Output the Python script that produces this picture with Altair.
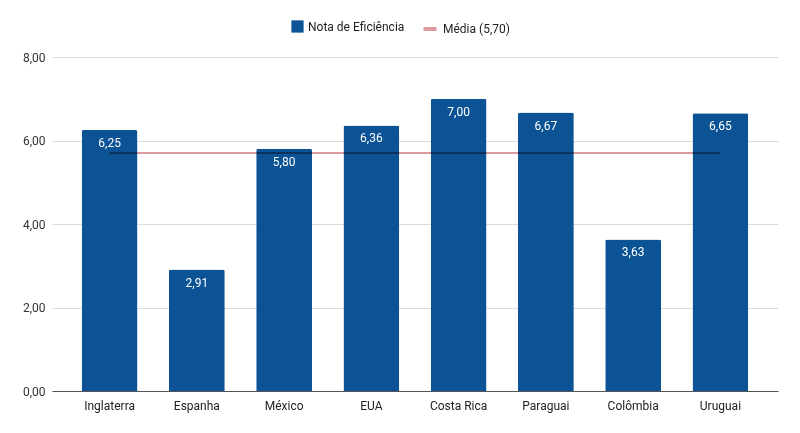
import altair as alt
import pandas as pd

paises = ["Inglaterra", "Espanha", "México", "EUA", "Costa Rica", "Paraguai", "Colômbia", "Uruguai"]
notas = [6.25, 2.91, 5.80, 6.36, 7.00, 6.67, 3.63, 6.65]
media = 5.70
y_ticks = [0, 2, 4, 6, 8]
serie_barra = "Nota de Eficiência"
serie_linha = "Média (5,70)"

df = pd.DataFrame({
    "pais": paises,
    "nota": notas,
    "rotulo": [f"{v:.2f}".replace(".", ",") for v in notas],
    "media": [media] * len(paises),
    "serie": [serie_barra] * len(paises),
    "serie2": [serie_linha] * len(paises),
})

FONT = "Roboto"
BLUE = "#0b5394"
PINK = "#d99aa0"

x_enc = alt.X(
    "pais:N", sort=None, title=None,
    scale=alt.Scale(paddingInner=0.36, paddingOuter=0.34),
    axis=alt.Axis(labelAngle=0, ticks=False, domainColor="#555", domainWidth=1,
                  labelFont=FONT, labelFontSize=12, labelColor="#222", labelPadding=9),
)

base = alt.Chart(df)

bars = base.mark_bar(cornerRadiusTopLeft=2, cornerRadiusTopRight=2).encode(
    x=x_enc,
    y=alt.Y("nota:Q", title=None,
            scale=alt.Scale(domain=[0, 8], nice=False),
            axis=alt.Axis(values=y_ticks, ticks=False, domain=False,
                          labelExpr="replace(format(datum.value, '.2f'), '.', ',')",
                          labelFont=FONT, labelFontSize=12, labelColor="#333",
                          labelPadding=7, gridColor="#dcdcdc")),
    color=alt.Color("serie:N", title=None,
                    scale=alt.Scale(domain=[serie_barra], range=[BLUE]),
                    legend=alt.Legend(orient="none", legendX=239, legendY=-37,
                                      symbolType="square", symbolSize=150,
                                      labelFont=FONT, labelFontSize=12, labelColor="#222",
                                      symbolStrokeWidth=0, symbolOpacity=1)),
)

labels = base.mark_text(baseline="top", dy=8, color="white", font=FONT, fontSize=12).encode(
    x=alt.X("pais:N", sort=None),
    y="nota:Q",
    text="rotulo:N",
)

line = base.mark_line(strokeWidth=2, blend="multiply").encode(
    x=alt.X("pais:N", sort=None),
    y="media:Q",
    stroke=alt.Stroke("serie2:N", title=None,
                      scale=alt.Scale(domain=[serie_linha], range=[PINK]),
                      legend=alt.Legend(orient="none", legendX=369, legendY=-37,
                                        symbolType="stroke", symbolSize=170,
                                        symbolStrokeWidth=4,
                                        labelFont=FONT, labelFontSize=12, labelColor="#222")),
)

chart = alt.layer(bars, line, labels).resolve_scale(color="independent").properties(
    width=726, height=334,
    autosize=alt.AutoSizeParams(type="none"),
    padding={"left": 52, "top": 57, "right": 22, "bottom": 42},
    background="white",
).configure_view(stroke=None)

chart.save("out.html", embed_options={"renderer": "svg", "actions": False})
